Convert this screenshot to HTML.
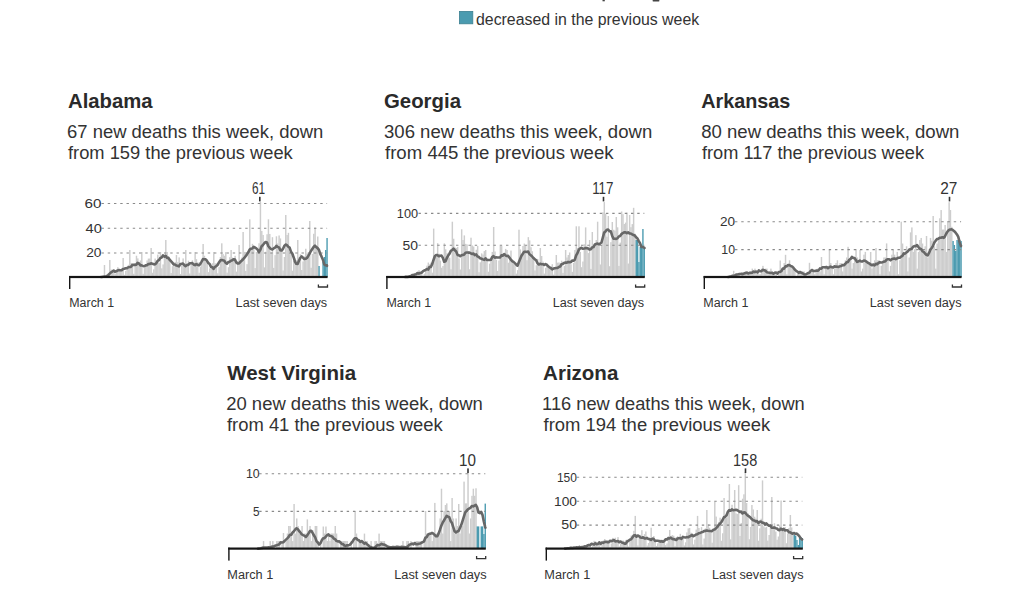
<!DOCTYPE html>
<html><head><meta charset="utf-8"><title>Deaths this week</title>
<style>
html,body{margin:0;padding:0;background:#fff;width:1024px;height:614px;overflow:hidden}
svg{display:block}
text{font-family:"Liberation Sans",sans-serif;fill:#333333}
.tt{font-weight:700;font-size:21px;fill:#2a2a2a}
.st{font-size:18.3px}
.gl{font-size:12.5px}
.ml{font-size:15.6px}
.xl{font-size:12.5px}
.lg{font-size:15.8px}
.xl2{font-size:12.8px}
</style></head><body>
<svg width="1024" height="614" viewBox="0 0 1024 614">
<rect width="1024" height="614" fill="#fff"/>
<rect x="602.5" y="0" width="2.3" height="1.3" fill="#444"/><rect x="652.5" y="0" width="7" height="1.6" rx="0.8" fill="#444"/>
<rect x="459.4" y="11.4" width="13.4" height="12.4" fill="#4b9bb0" stroke="#3d8091" stroke-width="0.8"/>
<text id="leg" x="476.00" y="24.60" class="lg" textLength="223.17" lengthAdjust="spacingAndGlyphs">decreased in the previous week</text>
<text id="t0" x="68.00" y="108.40" class="tt" textLength="84.55" lengthAdjust="spacingAndGlyphs">Alabama</text>
<text id="a0" x="67.00" y="137.50" class="st" textLength="256.28" lengthAdjust="spacingAndGlyphs">67 new deaths this week, down</text>
<text id="b0" x="68.00" y="158.70" class="st" textLength="224.78" lengthAdjust="spacingAndGlyphs">from 159 the previous week</text>
<g fill="#cdcdcd"><rect x="103.76" y="265" width="1.45" height="12"/><rect x="106.42" y="276.22" width="1.45" height="0.78"/><rect x="107.76" y="274.47" width="1.45" height="2.53"/><rect x="109.09" y="260" width="1.45" height="17"/><rect x="110.42" y="269.59" width="1.45" height="7.41"/><rect x="111.76" y="271.4" width="1.45" height="5.6"/><rect x="113.09" y="270.39" width="1.45" height="6.61"/><rect x="114.42" y="273.76" width="1.45" height="3.24"/><rect x="115.75" y="272.44" width="1.45" height="4.56"/><rect x="117.09" y="267.19" width="1.45" height="9.81"/><rect x="118.42" y="269.92" width="1.45" height="7.08"/><rect x="119.75" y="270.27" width="1.45" height="6.73"/><rect x="121.09" y="270.41" width="1.45" height="6.59"/><rect x="122.42" y="258" width="1.45" height="19"/><rect x="123.75" y="274.82" width="1.45" height="2.18"/><rect x="125.09" y="270.93" width="1.45" height="6.07"/><rect x="126.42" y="268.1" width="1.45" height="8.9"/><rect x="127.75" y="264.81" width="1.45" height="12.19"/><rect x="129.08" y="250" width="1.45" height="27"/><rect x="130.42" y="262.93" width="1.45" height="14.07"/><rect x="131.75" y="265.37" width="1.45" height="11.63"/><rect x="133.08" y="273.83" width="1.45" height="3.17"/><rect x="134.42" y="263.15" width="1.45" height="13.85"/><rect x="135.75" y="255.71" width="1.45" height="21.29"/><rect x="137.08" y="258.38" width="1.45" height="18.62"/><rect x="138.42" y="263.15" width="1.45" height="13.85"/><rect x="139.75" y="260.46" width="1.45" height="16.54"/><rect x="141.08" y="252" width="1.45" height="25"/><rect x="142.41" y="273.82" width="1.45" height="3.18"/><rect x="143.75" y="268.12" width="1.45" height="8.88"/><rect x="145.08" y="266.1" width="1.45" height="10.9"/><rect x="146.41" y="260.43" width="1.45" height="16.57"/><rect x="147.75" y="258.58" width="1.45" height="18.42"/><rect x="149.08" y="258.54" width="1.45" height="18.46"/><rect x="150.41" y="248" width="1.45" height="29"/><rect x="151.75" y="272.74" width="1.45" height="4.26"/><rect x="153.08" y="269.34" width="1.45" height="7.66"/><rect x="154.41" y="258.56" width="1.45" height="18.44"/><rect x="155.74" y="260.94" width="1.45" height="16.06"/><rect x="157.08" y="254.61" width="1.45" height="22.39"/><rect x="158.41" y="263.07" width="1.45" height="13.93"/><rect x="159.74" y="252" width="1.45" height="25"/><rect x="161.08" y="268.36" width="1.45" height="8.64"/><rect x="162.41" y="264.41" width="1.45" height="12.59"/><rect x="163.74" y="254.64" width="1.45" height="22.36"/><rect x="165.08" y="240" width="1.45" height="37"/><rect x="166.41" y="251.99" width="1.45" height="25.01"/><rect x="167.74" y="256.34" width="1.45" height="20.66"/><rect x="169.07" y="259.48" width="1.45" height="17.52"/><rect x="170.41" y="273.01" width="1.45" height="3.99"/><rect x="171.74" y="266.16" width="1.45" height="10.84"/><rect x="173.07" y="264.5" width="1.45" height="12.5"/><rect x="174.41" y="261.98" width="1.45" height="15.02"/><rect x="175.74" y="255" width="1.45" height="22"/><rect x="177.07" y="262.18" width="1.45" height="14.82"/><rect x="178.41" y="257.39" width="1.45" height="19.61"/><rect x="179.74" y="274.09" width="1.45" height="2.91"/><rect x="181.07" y="264.84" width="1.45" height="12.16"/><rect x="182.4" y="258.42" width="1.45" height="18.58"/><rect x="183.74" y="265.4" width="1.45" height="11.6"/><rect x="185.07" y="250" width="1.45" height="27"/><rect x="186.4" y="265.63" width="1.45" height="11.37"/><rect x="187.74" y="260.67" width="1.45" height="16.33"/><rect x="189.07" y="273.49" width="1.45" height="3.51"/><rect x="190.4" y="263.53" width="1.45" height="13.47"/><rect x="191.74" y="260.3" width="1.45" height="16.7"/><rect x="193.07" y="263.86" width="1.45" height="13.14"/><rect x="194.4" y="252" width="1.45" height="25"/><rect x="195.73" y="259.19" width="1.45" height="17.81"/><rect x="197.07" y="262.19" width="1.45" height="14.81"/><rect x="198.4" y="272.72" width="1.45" height="4.28"/><rect x="199.73" y="266.64" width="1.45" height="10.36"/><rect x="201.07" y="262.86" width="1.45" height="14.14"/><rect x="202.4" y="244" width="1.45" height="33"/><rect x="203.73" y="255.72" width="1.45" height="21.28"/><rect x="205.06" y="261.34" width="1.45" height="15.66"/><rect x="206.4" y="259.23" width="1.45" height="17.77"/><rect x="207.73" y="272.13" width="1.45" height="4.87"/><rect x="209.06" y="268.33" width="1.45" height="8.67"/><rect x="210.4" y="266.36" width="1.45" height="10.64"/><rect x="211.73" y="263.23" width="1.45" height="13.77"/><rect x="213.06" y="252" width="1.45" height="25"/><rect x="214.4" y="263.31" width="1.45" height="13.69"/><rect x="215.73" y="263.38" width="1.45" height="13.62"/><rect x="217.06" y="273.28" width="1.45" height="3.72"/><rect x="218.39" y="267.05" width="1.45" height="9.95"/><rect x="219.73" y="257.04" width="1.45" height="19.96"/><rect x="221.06" y="243.3" width="1.45" height="33.7"/><rect x="222.39" y="254.14" width="1.45" height="22.86"/><rect x="223.73" y="255.74" width="1.45" height="21.26"/><rect x="225.06" y="252.12" width="1.45" height="24.88"/><rect x="226.39" y="272.61" width="1.45" height="4.39"/><rect x="227.73" y="267.21" width="1.45" height="9.79"/><rect x="229.06" y="257.21" width="1.45" height="19.79"/><rect x="230.39" y="250" width="1.45" height="27"/><rect x="231.72" y="257.56" width="1.45" height="19.44"/><rect x="233.06" y="258.09" width="1.45" height="18.91"/><rect x="234.39" y="255.79" width="1.45" height="21.21"/><rect x="235.72" y="271.62" width="1.45" height="5.38"/><rect x="237.06" y="260.98" width="1.45" height="16.02"/><rect x="238.39" y="245" width="1.45" height="32"/><rect x="239.72" y="261.06" width="1.45" height="15.94"/><rect x="241.06" y="257.55" width="1.45" height="19.45"/><rect x="242.39" y="232" width="1.45" height="45"/><rect x="243.72" y="251.9" width="1.45" height="25.1"/><rect x="245.05" y="270.88" width="1.45" height="6.12"/><rect x="246.39" y="264.16" width="1.45" height="12.84"/><rect x="247.72" y="252.81" width="1.45" height="24.19"/><rect x="249.05" y="219.3" width="1.45" height="57.7"/><rect x="250.39" y="248.7" width="1.45" height="28.3"/><rect x="251.72" y="243.84" width="1.45" height="33.16"/><rect x="253.05" y="245.68" width="1.45" height="31.32"/><rect x="254.39" y="268.07" width="1.45" height="8.93"/><rect x="255.72" y="251.91" width="1.45" height="25.09"/><rect x="257.05" y="251.46" width="1.45" height="25.54"/><rect x="258.38" y="243.25" width="1.45" height="33.75"/><rect x="259.72" y="201.8" width="1.45" height="75.2"/><rect x="261.05" y="230.95" width="1.45" height="46.05"/><rect x="262.38" y="234.96" width="1.45" height="42.04"/><rect x="263.72" y="267.36" width="1.45" height="9.64"/><rect x="265.05" y="251.74" width="1.45" height="25.26"/><rect x="266.38" y="234.25" width="1.45" height="42.75"/><rect x="267.72" y="219.3" width="1.45" height="57.7"/><rect x="269.05" y="233.96" width="1.45" height="43.04"/><rect x="270.38" y="252.54" width="1.45" height="24.46"/><rect x="271.71" y="237.2" width="1.45" height="39.8"/><rect x="273.05" y="267.86" width="1.45" height="9.14"/><rect x="274.38" y="255.15" width="1.45" height="21.85"/><rect x="275.71" y="236.3" width="1.45" height="40.7"/><rect x="277.05" y="243.42" width="1.45" height="33.58"/><rect x="278.38" y="235.47" width="1.45" height="41.53"/><rect x="279.71" y="238.43" width="1.45" height="38.57"/><rect x="281.05" y="250.61" width="1.45" height="26.39"/><rect x="282.38" y="270.48" width="1.45" height="6.52"/><rect x="283.71" y="257.03" width="1.45" height="19.97"/><rect x="285.04" y="215" width="1.45" height="62"/><rect x="286.38" y="235.02" width="1.45" height="41.98"/><rect x="287.71" y="232.81" width="1.45" height="44.19"/><rect x="289.04" y="253.3" width="1.45" height="23.7"/><rect x="290.38" y="253.71" width="1.45" height="23.29"/><rect x="291.71" y="270.71" width="1.45" height="6.29"/><rect x="293.04" y="260.79" width="1.45" height="16.21"/><rect x="294.38" y="258.46" width="1.45" height="18.54"/><rect x="295.71" y="260.23" width="1.45" height="16.77"/><rect x="297.04" y="240" width="1.45" height="37"/><rect x="298.37" y="257.01" width="1.45" height="19.99"/><rect x="299.71" y="254.19" width="1.45" height="22.81"/><rect x="301.04" y="269.99" width="1.45" height="7.01"/><rect x="302.37" y="261.4" width="1.45" height="15.6"/><rect x="303.71" y="256.36" width="1.45" height="20.64"/><rect x="305.04" y="248.74" width="1.45" height="28.26"/><rect x="306.37" y="253.4" width="1.45" height="23.6"/><rect x="307.71" y="255.13" width="1.45" height="21.87"/><rect x="309.04" y="221" width="1.45" height="56"/><rect x="310.37" y="267.74" width="1.45" height="9.26"/><rect x="311.7" y="253.93" width="1.45" height="23.07"/><rect x="313.04" y="233.79" width="1.45" height="43.21"/><rect x="314.37" y="227.56" width="1.45" height="49.44"/><rect x="315.7" y="248.46" width="1.45" height="28.54"/><rect x="317.04" y="236.5" width="1.45" height="40.5"/></g>
<g fill="#4b9bb0"><rect x="318.37" y="266" width="1.38" height="11"/><rect x="319.7" y="277" width="1.38" height="0"/><rect x="321.04" y="277" width="1.38" height="0"/><rect x="322.37" y="262" width="1.38" height="15"/><rect x="323.7" y="257" width="1.38" height="20"/><rect x="325.03" y="250" width="1.38" height="27"/><rect x="326.37" y="238" width="1.38" height="39"/></g>
<line x1="101.5" y1="252.95" x2="327.1" y2="252.95" stroke="#8a8a8a" stroke-width="1.1" stroke-dasharray="2.4 3.85"/>
<text id="g0_20" x="86.20" y="257.25" class="gl" textLength="15.31" lengthAdjust="spacingAndGlyphs">20</text>
<line x1="101.5" y1="228.2" x2="327.1" y2="228.2" stroke="#8a8a8a" stroke-width="1.1" stroke-dasharray="2.4 3.85"/>
<text id="g0_40" x="85.60" y="232.50" class="gl" textLength="16.31" lengthAdjust="spacingAndGlyphs">40</text>
<line x1="101.5" y1="203.45" x2="327.1" y2="203.45" stroke="#8a8a8a" stroke-width="1.1" stroke-dasharray="2.4 3.85"/>
<text id="g0_60" x="84.60" y="207.75" class="gl" textLength="16.91" lengthAdjust="spacingAndGlyphs">60</text>
<path d="M101 277 L101.66 276.97 L102.99 276.71 L104.32 276.58 L105.66 276.58 L106.99 275.84 L108.32 274.99 L109.66 273.64 L110.99 272.31 L112.32 271.58 L113.66 270.51 L114.99 271.71 L116.32 271.3 L117.65 270.45 L118.99 270.08 L120.32 270.26 L121.65 270.3 L122.99 269.04 L124.32 268.8 L125.65 268.25 L126.99 268.09 L128.32 267.21 L129.65 267.04 L130.98 266.84 L132.32 264.9 L133.65 264.7 L134.98 264.85 L136.32 264.64 L137.65 262.86 L138.98 263.45 L140.31 265.36 L141.65 265.36 L142.98 265.88 L144.31 266.26 L145.65 265.4 L146.98 265.18 L148.31 264.11 L149.65 264.01 L150.98 263.29 L152.31 263.65 L153.64 264.26 L154.98 264.34 L156.31 263.24 L157.64 260.83 L158.98 260.12 L160.31 257.9 L161.64 257.48 L162.98 255.4 L164.31 256.59 L165.64 255.75 L166.97 257.83 L168.31 257.82 L169.64 259.75 L170.97 261.2 L172.31 262.67 L173.64 264.39 L174.97 264.45 L176.31 265.54 L177.64 265.72 L178.97 266.36 L180.3 264.05 L181.64 263.84 L182.97 263.52 L184.3 265.18 L185.64 266.21 L186.97 264.81 L188.3 264.88 L189.64 263.26 L190.97 263.2 L192.3 263.07 L193.63 264.46 L194.97 265.11 L196.3 264.07 L197.63 264.74 L198.97 265.29 L200.3 263.78 L201.63 261.6 L202.97 259.11 L204.3 259.25 L205.63 259.41 L206.96 260.83 L208.3 262.98 L209.63 264.04 L210.96 266.89 L212.3 267.34 L213.63 268.85 L214.96 266.81 L216.3 266.09 L217.63 264.93 L218.96 262.49 L220.29 260.55 L221.63 259.99 L222.96 260.36 L224.29 260.82 L225.63 262.69 L226.96 263.74 L228.29 262.13 L229.63 261.77 L230.96 260.76 L232.29 260.37 L233.62 259.27 L234.96 259.6 L236.29 262.44 L237.62 263.55 L238.96 263.42 L240.29 262.01 L241.62 260.69 L242.96 259.43 L244.29 257.95 L245.62 256.19 L246.95 254.38 L248.29 252.31 L249.62 249.59 L250.95 248.67 L252.29 248.51 L253.62 246.83 L254.95 247.51 L256.29 248.4 L257.62 249.68 L258.95 252.19 L260.28 249.95 L261.62 246.25 L262.95 245.01 L264.28 243.32 L265.62 242.07 L266.95 242.42 L268.28 246.04 L269.61 247.75 L270.95 248.91 L272.28 249.43 L273.61 248.42 L274.95 247.67 L276.28 245.94 L277.61 246.87 L278.95 247.35 L280.28 250.15 L281.61 250.56 L282.94 248.94 L284.28 245.94 L285.61 244.58 L286.94 245.11 L288.28 246.75 L289.61 247.57 L290.94 251.66 L292.28 253.55 L293.61 257.21 L294.94 261.54 L296.27 263.8 L297.61 264.01 L298.94 260.81 L300.27 257.98 L301.61 256.43 L302.94 257.61 L304.27 259 L305.61 258.79 L306.94 257.98 L308.27 255.94 L309.6 253.64 L310.94 251.03 L312.27 248.97 L313.6 247.03 L314.94 245.66 L316.27 247.15 L317.6 248.16 L318.94 249.86 L320.27 253.91 L321.6 256.66 L322.93 259.73 L324.27 264.49 L325.6 265.28 L326.93 265.36 L327 266" fill="none" stroke="#676767" stroke-width="2.6" stroke-linejoin="round" stroke-linecap="round"/>
<rect x="69" y="275.9" width="258.6" height="2.2" fill="#151515"/>
<rect x="69" y="276" width="1.4" height="13" fill="#151515"/>
<path d="M318.4 284.5V287H327.5V284.5" fill="none" stroke="#333" stroke-width="1.3"/>
<rect x="259" y="196.8" width="1.6" height="4.6" fill="#333"/>
<text id="m0" x="252.00" y="194.10" class="ml" textLength="13.16" lengthAdjust="spacingAndGlyphs">61</text>
<text id="x0" x="69.30" y="307.00" class="xl" textLength="44.76" lengthAdjust="spacingAndGlyphs">March 1</text>
<text id="l0" x="235.60" y="307.00" class="xl" textLength="91.54" lengthAdjust="spacingAndGlyphs">Last seven days</text>
<text id="t1" x="384.00" y="108.40" class="tt" textLength="76.96" lengthAdjust="spacingAndGlyphs">Georgia</text>
<text id="a1" x="384.00" y="137.50" class="st" textLength="268.23" lengthAdjust="spacingAndGlyphs">306 new deaths this week, down</text>
<text id="b1" x="385.00" y="158.70" class="st" textLength="228.58" lengthAdjust="spacingAndGlyphs">from 445 the previous week</text>
<g fill="#cdcdcd"><rect x="406.29" y="276.65" width="1.45" height="0.35"/><rect x="407.63" y="276.49" width="1.45" height="0.51"/><rect x="408.96" y="276.4" width="1.45" height="0.6"/><rect x="410.29" y="275.85" width="1.45" height="1.15"/><rect x="411.63" y="274.41" width="1.45" height="2.59"/><rect x="412.96" y="276.27" width="1.45" height="0.73"/><rect x="414.29" y="274.88" width="1.45" height="2.12"/><rect x="415.63" y="272.77" width="1.45" height="4.23"/><rect x="416.96" y="272.47" width="1.45" height="4.53"/><rect x="418.29" y="270.19" width="1.45" height="6.81"/><rect x="419.62" y="271.46" width="1.45" height="5.54"/><rect x="420.96" y="272.67" width="1.45" height="4.33"/><rect x="422.29" y="275.54" width="1.45" height="1.46"/><rect x="423.62" y="273.72" width="1.45" height="3.28"/><rect x="424.96" y="269.65" width="1.45" height="7.35"/><rect x="426.29" y="265.66" width="1.45" height="11.34"/><rect x="427.62" y="262.56" width="1.45" height="14.44"/><rect x="428.96" y="264.35" width="1.45" height="12.65"/><rect x="430.29" y="262.59" width="1.45" height="14.41"/><rect x="431.62" y="272.66" width="1.45" height="4.34"/><rect x="432.95" y="228.6" width="1.45" height="48.4"/><rect x="434.29" y="257.29" width="1.45" height="19.71"/><rect x="435.62" y="256.99" width="1.45" height="20.01"/><rect x="436.95" y="243.18" width="1.45" height="33.82"/><rect x="438.29" y="253.65" width="1.45" height="23.35"/><rect x="439.62" y="260.6" width="1.45" height="16.4"/><rect x="440.95" y="267.76" width="1.45" height="9.24"/><rect x="442.29" y="266.01" width="1.45" height="10.99"/><rect x="443.62" y="243.4" width="1.45" height="33.6"/><rect x="444.95" y="249.32" width="1.45" height="27.68"/><rect x="446.28" y="253.25" width="1.45" height="23.75"/><rect x="447.62" y="252.88" width="1.45" height="24.12"/><rect x="448.95" y="257.67" width="1.45" height="19.33"/><rect x="450.28" y="269.28" width="1.45" height="7.72"/><rect x="451.62" y="221.7" width="1.45" height="55.3"/><rect x="452.95" y="238.74" width="1.45" height="38.26"/><rect x="454.28" y="247.57" width="1.45" height="29.43"/><rect x="455.62" y="247.93" width="1.45" height="29.07"/><rect x="456.95" y="246.89" width="1.45" height="30.11"/><rect x="458.28" y="258.47" width="1.45" height="18.53"/><rect x="459.61" y="269.5" width="1.45" height="7.5"/><rect x="460.95" y="229.3" width="1.45" height="47.7"/><rect x="462.28" y="240.01" width="1.45" height="36.99"/><rect x="463.61" y="235.4" width="1.45" height="41.6"/><rect x="464.95" y="243.85" width="1.45" height="33.15"/><rect x="466.28" y="244.36" width="1.45" height="32.64"/><rect x="467.61" y="251.22" width="1.45" height="25.78"/><rect x="468.95" y="269.27" width="1.45" height="7.73"/><rect x="470.28" y="237.7" width="1.45" height="39.3"/><rect x="471.61" y="245.44" width="1.45" height="31.56"/><rect x="472.94" y="246.52" width="1.45" height="30.48"/><rect x="474.28" y="256.82" width="1.45" height="20.18"/><rect x="475.61" y="249.71" width="1.45" height="27.29"/><rect x="476.94" y="246" width="1.45" height="31"/><rect x="478.28" y="272.27" width="1.45" height="4.73"/><rect x="479.61" y="262.29" width="1.45" height="14.71"/><rect x="480.94" y="253.39" width="1.45" height="23.61"/><rect x="482.28" y="254.55" width="1.45" height="22.45"/><rect x="483.61" y="251.12" width="1.45" height="25.88"/><rect x="484.94" y="250" width="1.45" height="27"/><rect x="486.27" y="258.77" width="1.45" height="18.23"/><rect x="487.61" y="271.74" width="1.45" height="5.26"/><rect x="488.94" y="263.65" width="1.45" height="13.35"/><rect x="490.27" y="260.46" width="1.45" height="16.54"/><rect x="491.61" y="251.93" width="1.45" height="25.07"/><rect x="492.94" y="227" width="1.45" height="50"/><rect x="494.27" y="251.5" width="1.45" height="25.5"/><rect x="495.61" y="259.8" width="1.45" height="17.2"/><rect x="496.94" y="270.97" width="1.45" height="6.03"/><rect x="498.27" y="260.53" width="1.45" height="16.47"/><rect x="499.6" y="246" width="1.45" height="31"/><rect x="500.94" y="246.05" width="1.45" height="30.95"/><rect x="502.27" y="253.62" width="1.45" height="23.38"/><rect x="503.6" y="254.02" width="1.45" height="22.98"/><rect x="504.94" y="248.9" width="1.45" height="28.1"/><rect x="506.27" y="250" width="1.45" height="27"/><rect x="507.6" y="262.71" width="1.45" height="14.29"/><rect x="508.94" y="257.44" width="1.45" height="19.56"/><rect x="510.27" y="250.55" width="1.45" height="26.45"/><rect x="511.6" y="259.4" width="1.45" height="17.6"/><rect x="512.93" y="264.05" width="1.45" height="12.95"/><rect x="514.27" y="264.24" width="1.45" height="12.76"/><rect x="515.6" y="273.62" width="1.45" height="3.38"/><rect x="516.93" y="270.15" width="1.45" height="6.85"/><rect x="518.27" y="229.7" width="1.45" height="47.3"/><rect x="519.6" y="249.37" width="1.45" height="27.63"/><rect x="520.93" y="258.17" width="1.45" height="18.83"/><rect x="522.26" y="245.96" width="1.45" height="31.04"/><rect x="523.6" y="243.59" width="1.45" height="33.41"/><rect x="524.93" y="246" width="1.45" height="31"/><rect x="526.26" y="260.22" width="1.45" height="16.78"/><rect x="527.6" y="237.13" width="1.45" height="39.87"/><rect x="528.93" y="240.39" width="1.45" height="36.61"/><rect x="530.26" y="247.23" width="1.45" height="29.77"/><rect x="531.6" y="251.25" width="1.45" height="25.75"/><rect x="532.93" y="258.55" width="1.45" height="18.45"/><rect x="534.26" y="270.47" width="1.45" height="6.53"/><rect x="535.59" y="265.2" width="1.45" height="11.8"/><rect x="536.93" y="258.92" width="1.45" height="18.08"/><rect x="538.26" y="262.52" width="1.45" height="14.48"/><rect x="539.59" y="248" width="1.45" height="29"/><rect x="540.93" y="256" width="1.45" height="21"/><rect x="542.26" y="261.65" width="1.45" height="15.35"/><rect x="543.59" y="273.58" width="1.45" height="3.42"/><rect x="544.93" y="267.89" width="1.45" height="9.11"/><rect x="546.26" y="263.04" width="1.45" height="13.96"/><rect x="547.59" y="267.01" width="1.45" height="9.99"/><rect x="548.92" y="268.19" width="1.45" height="8.81"/><rect x="550.26" y="266.78" width="1.45" height="10.22"/><rect x="551.59" y="264.19" width="1.45" height="12.81"/><rect x="552.92" y="274.63" width="1.45" height="2.37"/><rect x="554.26" y="268.76" width="1.45" height="8.24"/><rect x="555.59" y="255" width="1.45" height="22"/><rect x="556.92" y="262.66" width="1.45" height="14.34"/><rect x="558.26" y="262.5" width="1.45" height="14.5"/><rect x="559.59" y="263.45" width="1.45" height="13.55"/><rect x="560.92" y="260.69" width="1.45" height="16.31"/><rect x="562.25" y="272.91" width="1.45" height="4.09"/><rect x="563.59" y="266.01" width="1.45" height="10.99"/><rect x="564.92" y="250" width="1.45" height="27"/><rect x="566.25" y="257.46" width="1.45" height="19.54"/><rect x="567.59" y="255.03" width="1.45" height="21.97"/><rect x="568.92" y="252.46" width="1.45" height="24.54"/><rect x="570.25" y="264.25" width="1.45" height="12.75"/><rect x="571.59" y="271.86" width="1.45" height="5.14"/><rect x="572.92" y="262.97" width="1.45" height="14.03"/><rect x="574.25" y="249.97" width="1.45" height="27.03"/><rect x="575.58" y="226.3" width="1.45" height="50.7"/><rect x="576.92" y="247.9" width="1.45" height="29.1"/><rect x="578.25" y="226.3" width="1.45" height="50.7"/><rect x="579.58" y="251.89" width="1.45" height="25.11"/><rect x="580.92" y="267.19" width="1.45" height="9.81"/><rect x="582.25" y="261.51" width="1.45" height="15.49"/><rect x="583.58" y="244.25" width="1.45" height="32.75"/><rect x="584.92" y="227.4" width="1.45" height="49.6"/><rect x="586.25" y="248.4" width="1.45" height="28.6"/><rect x="587.58" y="253.07" width="1.45" height="23.93"/><rect x="588.91" y="240.02" width="1.45" height="36.98"/><rect x="590.25" y="268.89" width="1.45" height="8.11"/><rect x="591.58" y="232" width="1.45" height="45"/><rect x="592.91" y="246.82" width="1.45" height="30.18"/><rect x="594.25" y="244.01" width="1.45" height="32.99"/><rect x="595.58" y="239.99" width="1.45" height="37.01"/><rect x="596.91" y="221.7" width="1.45" height="55.3"/><rect x="598.25" y="244.34" width="1.45" height="32.66"/><rect x="599.58" y="264.48" width="1.45" height="12.52"/><rect x="600.91" y="245.02" width="1.45" height="31.98"/><rect x="602.24" y="212.34" width="1.45" height="64.66"/><rect x="603.58" y="202.1" width="1.45" height="74.9"/><rect x="604.91" y="213.63" width="1.45" height="63.37"/><rect x="606.24" y="236.74" width="1.45" height="40.26"/><rect x="607.58" y="216" width="1.45" height="61"/><rect x="608.91" y="266.22" width="1.45" height="10.78"/><rect x="610.24" y="242.16" width="1.45" height="34.84"/><rect x="611.58" y="222" width="1.45" height="55"/><rect x="612.91" y="229.77" width="1.45" height="47.23"/><rect x="614.24" y="230.57" width="1.45" height="46.43"/><rect x="615.57" y="217" width="1.45" height="60"/><rect x="616.91" y="227.31" width="1.45" height="49.69"/><rect x="618.24" y="265.91" width="1.45" height="11.09"/><rect x="619.57" y="242.63" width="1.45" height="34.37"/><rect x="620.91" y="211.5" width="1.45" height="65.5"/><rect x="622.24" y="214.18" width="1.45" height="62.82"/><rect x="623.57" y="224.01" width="1.45" height="52.99"/><rect x="624.91" y="222.6" width="1.45" height="54.4"/><rect x="626.24" y="212.6" width="1.45" height="64.4"/><rect x="627.57" y="263.55" width="1.45" height="13.45"/><rect x="628.9" y="215" width="1.45" height="62"/><rect x="630.24" y="227.19" width="1.45" height="49.81"/><rect x="631.57" y="224.11" width="1.45" height="52.89"/><rect x="632.9" y="207.81" width="1.45" height="69.19"/><rect x="634.24" y="233.68" width="1.45" height="43.32"/></g>
<g fill="#4b9bb0"><rect x="635.57" y="240" width="1.38" height="37"/><rect x="636.9" y="240" width="1.38" height="37"/><rect x="638.24" y="262" width="1.38" height="15"/><rect x="639.57" y="247" width="1.38" height="30"/><rect x="640.9" y="247" width="1.38" height="30"/><rect x="642.23" y="229" width="1.38" height="48"/><rect x="643.57" y="247" width="1.38" height="30"/></g>
<line x1="418.5" y1="245.3" x2="644.3" y2="245.3" stroke="#8a8a8a" stroke-width="1.1" stroke-dasharray="2.4 3.85"/>
<text id="g1_50" x="402.60" y="249.60" class="gl" textLength="15.51" lengthAdjust="spacingAndGlyphs">50</text>
<line x1="418.5" y1="213.4" x2="644.3" y2="213.4" stroke="#8a8a8a" stroke-width="1.1" stroke-dasharray="2.4 3.85"/>
<text id="g1_100" x="396.80" y="217.70" class="gl" textLength="21.26" lengthAdjust="spacingAndGlyphs">100</text>
<path d="M405 277 L405.53 276.86 L406.86 276.91 L408.19 276.86 L409.53 276.26 L410.86 275.99 L412.19 275.15 L413.53 275.06 L414.86 274.51 L416.19 274.15 L417.53 272.95 L418.86 273.57 L420.19 272.96 L421.52 272.71 L422.86 271.36 L424.19 270.49 L425.52 270.07 L426.86 269.02 L428.19 269.58 L429.52 266.94 L430.86 267.08 L432.19 264.06 L433.52 259.94 L434.85 256.23 L436.19 255.08 L437.52 255.17 L438.85 256.22 L440.19 255.73 L441.52 255.64 L442.85 257.84 L444.19 261.72 L445.52 261.28 L446.85 257.94 L448.18 255.54 L449.52 253.68 L450.85 250.91 L452.18 249.99 L453.52 248.7 L454.85 250.19 L456.18 251.45 L457.51 254.89 L458.85 255.27 L460.18 256.29 L461.51 255.32 L462.85 254.89 L464.18 254.61 L465.51 252.76 L466.85 252.46 L468.18 252.58 L469.51 252.66 L470.84 253.37 L472.18 254.06 L473.51 253.49 L474.84 255.18 L476.18 254.38 L477.51 256.43 L478.84 257.02 L480.18 258.32 L481.51 258.75 L482.84 259.38 L484.17 259.83 L485.51 258.33 L486.84 259.91 L488.17 260.05 L489.51 260.06 L490.84 259.84 L492.17 257.07 L493.51 256.18 L494.84 257.73 L496.17 257.34 L497.5 257.49 L498.84 257.51 L500.17 257.43 L501.5 255.27 L502.84 255.62 L504.17 254.01 L505.5 255.31 L506.84 256.03 L508.17 255.9 L509.5 257.74 L510.83 259.61 L512.17 261.04 L513.5 261.83 L514.83 263.12 L516.17 264.45 L517.5 265.67 L518.83 262.34 L520.17 258.9 L521.5 255.74 L522.83 253.69 L524.16 251.74 L525.5 251.77 L526.83 252 L528.16 251.51 L529.5 254.27 L530.83 255.27 L532.16 256.48 L533.5 258.04 L534.83 259.33 L536.16 260.34 L537.49 263.33 L538.83 264.5 L540.16 263.8 L541.49 264.22 L542.83 264.19 L544.16 264.95 L545.49 264.03 L546.83 264.95 L548.16 266.29 L549.49 267.33 L550.82 268 L552.16 269.35 L553.49 268.59 L554.82 268.28 L556.16 267.96 L557.49 268.03 L558.82 266.97 L560.16 266.56 L561.49 264.25 L562.82 263.9 L564.15 262.89 L565.49 262.51 L566.82 262.68 L568.15 261.92 L569.49 262.17 L570.82 262.19 L572.15 260.62 L573.49 260.73 L574.82 259.73 L576.15 255.48 L577.48 253.14 L578.82 249.73 L580.15 248.34 L581.48 247.83 L582.82 248.79 L584.15 248.51 L585.48 248.16 L586.81 247.99 L588.15 248.44 L589.48 249.56 L590.81 249.19 L592.15 247.39 L593.48 247.03 L594.81 244.5 L596.15 244.02 L597.48 243.56 L598.81 244.27 L600.14 243.51 L601.48 242.48 L602.81 237.6 L604.14 232.61 L605.48 231.56 L606.81 229.69 L608.14 229.53 L609.48 231.29 L610.81 231.32 L612.14 235.67 L613.47 238.59 L614.81 238.73 L616.14 238.9 L617.47 238.33 L618.81 236.5 L620.14 236.06 L621.47 234.1 L622.81 233.07 L624.14 232.34 L625.47 232.19 L626.8 233.17 L628.14 232.37 L629.47 233.44 L630.8 233.47 L632.14 234.43 L633.47 235.01 L634.8 235.56 L636.14 237.36 L637.47 238.47 L638.8 241.1 L640.13 243.36 L641.47 247.04 L642.8 246.93 L644.13 247.56 L644.5 248" fill="none" stroke="#676767" stroke-width="2.6" stroke-linejoin="round" stroke-linecap="round"/>
<rect x="386.2" y="275.9" width="258.6" height="2.2" fill="#151515"/>
<rect x="386.2" y="276" width="1.4" height="13" fill="#151515"/>
<path d="M635.6 284.5V287H644.7V284.5" fill="none" stroke="#333" stroke-width="1.3"/>
<rect x="602.7" y="196.8" width="1.6" height="4.6" fill="#333"/>
<text id="m1" x="592.20" y="194.10" class="ml" textLength="21.28" lengthAdjust="spacingAndGlyphs">117</text>
<text id="x1" x="386.50" y="307.00" class="xl" textLength="44.76" lengthAdjust="spacingAndGlyphs">March 1</text>
<text id="l1" x="552.80" y="307.00" class="xl" textLength="91.34" lengthAdjust="spacingAndGlyphs">Last seven days</text>
<text id="t2" x="701.20" y="108.40" class="tt" textLength="89.16" lengthAdjust="spacingAndGlyphs">Arkansas</text>
<text id="a2" x="701.20" y="137.50" class="st" textLength="258.28" lengthAdjust="spacingAndGlyphs">80 new deaths this week, down</text>
<text id="b2" x="702.00" y="158.70" class="st" textLength="222.02" lengthAdjust="spacingAndGlyphs">from 117 the previous week</text>
<g fill="#cdcdcd"><rect x="732.96" y="270.8" width="1.45" height="6.2"/><rect x="734.29" y="274.21" width="1.45" height="2.79"/><rect x="735.62" y="274.21" width="1.45" height="2.79"/><rect x="736.95" y="274.21" width="1.45" height="2.79"/><rect x="738.28" y="274.21" width="1.45" height="2.79"/><rect x="740.94" y="274.21" width="1.45" height="2.79"/><rect x="742.27" y="274.21" width="1.45" height="2.79"/><rect x="743.6" y="274.21" width="1.45" height="2.79"/><rect x="744.93" y="271.42" width="1.45" height="5.58"/><rect x="746.26" y="271.42" width="1.45" height="5.58"/><rect x="747.59" y="274.21" width="1.45" height="2.79"/><rect x="748.92" y="274.21" width="1.45" height="2.79"/><rect x="750.25" y="271.42" width="1.45" height="5.58"/><rect x="751.58" y="268.63" width="1.45" height="8.37"/><rect x="752.91" y="271.42" width="1.45" height="5.58"/><rect x="754.24" y="268.63" width="1.45" height="8.37"/><rect x="755.57" y="274.21" width="1.45" height="2.79"/><rect x="756.9" y="271.42" width="1.45" height="5.58"/><rect x="758.23" y="274.21" width="1.45" height="2.79"/><rect x="759.56" y="274.21" width="1.45" height="2.79"/><rect x="760.89" y="268.63" width="1.45" height="8.37"/><rect x="762.22" y="265.84" width="1.45" height="11.16"/><rect x="763.55" y="271.42" width="1.45" height="5.58"/><rect x="764.88" y="268.63" width="1.45" height="8.37"/><rect x="766.21" y="268.63" width="1.45" height="8.37"/><rect x="767.54" y="274.21" width="1.45" height="2.79"/><rect x="768.86" y="271.42" width="1.45" height="5.58"/><rect x="770.19" y="268.63" width="1.45" height="8.37"/><rect x="771.52" y="271.42" width="1.45" height="5.58"/><rect x="772.85" y="274.21" width="1.45" height="2.79"/><rect x="774.18" y="271.42" width="1.45" height="5.58"/><rect x="775.51" y="274.21" width="1.45" height="2.79"/><rect x="778.17" y="274.21" width="1.45" height="2.79"/><rect x="779.5" y="260.5" width="1.45" height="16.5"/><rect x="780.83" y="268.63" width="1.45" height="8.37"/><rect x="782.16" y="268.63" width="1.45" height="8.37"/><rect x="783.49" y="263.05" width="1.45" height="13.95"/><rect x="784.82" y="254.8" width="1.45" height="22.2"/><rect x="786.15" y="274.21" width="1.45" height="2.79"/><rect x="787.48" y="265.84" width="1.45" height="11.16"/><rect x="788.81" y="260.26" width="1.45" height="16.74"/><rect x="790.14" y="265.84" width="1.45" height="11.16"/><rect x="791.47" y="265.84" width="1.45" height="11.16"/><rect x="792.8" y="268.63" width="1.45" height="8.37"/><rect x="794.13" y="271.42" width="1.45" height="5.58"/><rect x="796.79" y="274.21" width="1.45" height="2.79"/><rect x="798.12" y="271.42" width="1.45" height="5.58"/><rect x="799.45" y="274.21" width="1.45" height="2.79"/><rect x="800.78" y="271.42" width="1.45" height="5.58"/><rect x="802.11" y="271.42" width="1.45" height="5.58"/><rect x="803.44" y="271.42" width="1.45" height="5.58"/><rect x="806.1" y="274.21" width="1.45" height="2.79"/><rect x="807.43" y="271.42" width="1.45" height="5.58"/><rect x="808.76" y="262.8" width="1.45" height="14.2"/><rect x="810.09" y="271.42" width="1.45" height="5.58"/><rect x="811.42" y="268.63" width="1.45" height="8.37"/><rect x="812.75" y="271.42" width="1.45" height="5.58"/><rect x="814.08" y="274.21" width="1.45" height="2.79"/><rect x="815.41" y="271.42" width="1.45" height="5.58"/><rect x="816.74" y="268.63" width="1.45" height="8.37"/><rect x="818.07" y="268.63" width="1.45" height="8.37"/><rect x="819.4" y="271.42" width="1.45" height="5.58"/><rect x="820.73" y="257" width="1.45" height="20"/><rect x="822.06" y="268.63" width="1.45" height="8.37"/><rect x="823.39" y="274.21" width="1.45" height="2.79"/><rect x="824.72" y="268.63" width="1.45" height="8.37"/><rect x="826.05" y="265.84" width="1.45" height="11.16"/><rect x="827.38" y="268.63" width="1.45" height="8.37"/><rect x="828.71" y="250" width="1.45" height="27"/><rect x="830.04" y="263.05" width="1.45" height="13.95"/><rect x="831.37" y="265.84" width="1.45" height="11.16"/><rect x="832.7" y="274.21" width="1.45" height="2.79"/><rect x="834.03" y="268.63" width="1.45" height="8.37"/><rect x="835.36" y="263.05" width="1.45" height="13.95"/><rect x="836.69" y="260.26" width="1.45" height="16.74"/><rect x="838.02" y="265.84" width="1.45" height="11.16"/><rect x="839.35" y="263.05" width="1.45" height="13.95"/><rect x="840.68" y="263.05" width="1.45" height="13.95"/><rect x="842.01" y="271.42" width="1.45" height="5.58"/><rect x="843.34" y="265.84" width="1.45" height="11.16"/><rect x="844.67" y="260.26" width="1.45" height="16.74"/><rect x="846" y="257.47" width="1.45" height="19.53"/><rect x="847.33" y="246.8" width="1.45" height="30.2"/><rect x="848.66" y="260.26" width="1.45" height="16.74"/><rect x="849.99" y="260.26" width="1.45" height="16.74"/><rect x="851.32" y="268.63" width="1.45" height="8.37"/><rect x="852.65" y="263.05" width="1.45" height="13.95"/><rect x="853.98" y="257.47" width="1.45" height="19.53"/><rect x="855.31" y="249.1" width="1.45" height="27.9"/><rect x="856.64" y="257.47" width="1.45" height="19.53"/><rect x="857.97" y="260.26" width="1.45" height="16.74"/><rect x="859.3" y="250" width="1.45" height="27"/><rect x="860.63" y="271.42" width="1.45" height="5.58"/><rect x="861.96" y="268.63" width="1.45" height="8.37"/><rect x="863.29" y="254.68" width="1.45" height="22.32"/><rect x="864.62" y="251.89" width="1.45" height="25.11"/><rect x="865.95" y="260.26" width="1.45" height="16.74"/><rect x="867.28" y="263.05" width="1.45" height="13.95"/><rect x="868.61" y="263.05" width="1.45" height="13.95"/><rect x="869.94" y="252" width="1.45" height="25"/><rect x="871.27" y="268.63" width="1.45" height="8.37"/><rect x="872.6" y="263.05" width="1.45" height="13.95"/><rect x="873.93" y="260.26" width="1.45" height="16.74"/><rect x="875.26" y="248" width="1.45" height="29"/><rect x="876.59" y="260.26" width="1.45" height="16.74"/><rect x="877.92" y="260.26" width="1.45" height="16.74"/><rect x="879.25" y="274.21" width="1.45" height="2.79"/><rect x="880.58" y="265.84" width="1.45" height="11.16"/><rect x="881.91" y="263.05" width="1.45" height="13.95"/><rect x="883.24" y="257.47" width="1.45" height="19.53"/><rect x="884.57" y="257.47" width="1.45" height="19.53"/><rect x="885.9" y="243.4" width="1.45" height="33.6"/><rect x="887.23" y="260.26" width="1.45" height="16.74"/><rect x="888.56" y="271.42" width="1.45" height="5.58"/><rect x="889.89" y="265.84" width="1.45" height="11.16"/><rect x="891.22" y="254.68" width="1.45" height="22.32"/><rect x="892.55" y="250" width="1.45" height="27"/><rect x="893.88" y="254.68" width="1.45" height="22.32"/><rect x="895.21" y="257.47" width="1.45" height="19.53"/><rect x="896.54" y="251.89" width="1.45" height="25.11"/><rect x="897.86" y="274.21" width="1.45" height="2.79"/><rect x="899.19" y="260.26" width="1.45" height="16.74"/><rect x="900.52" y="221.7" width="1.45" height="55.3"/><rect x="901.85" y="243.52" width="1.45" height="33.48"/><rect x="903.18" y="251.89" width="1.45" height="25.11"/><rect x="904.51" y="254.68" width="1.45" height="22.32"/><rect x="905.84" y="246.31" width="1.45" height="30.69"/><rect x="907.17" y="271.42" width="1.45" height="5.58"/><rect x="908.5" y="257.47" width="1.45" height="19.53"/><rect x="909.83" y="232.36" width="1.45" height="44.64"/><rect x="911.16" y="227.4" width="1.45" height="49.6"/><rect x="912.49" y="251.89" width="1.45" height="25.11"/><rect x="913.82" y="249.1" width="1.45" height="27.9"/><rect x="915.15" y="235.15" width="1.45" height="41.85"/><rect x="916.48" y="268.63" width="1.45" height="8.37"/><rect x="917.81" y="251.89" width="1.45" height="25.11"/><rect x="919.14" y="240" width="1.45" height="37"/><rect x="920.47" y="237.94" width="1.45" height="39.06"/><rect x="921.8" y="243.52" width="1.45" height="33.48"/><rect x="923.13" y="251.89" width="1.45" height="25.11"/><rect x="924.46" y="246.31" width="1.45" height="30.69"/><rect x="925.79" y="236" width="1.45" height="41"/><rect x="927.12" y="257.47" width="1.45" height="19.53"/><rect x="928.45" y="251.89" width="1.45" height="25.11"/><rect x="929.78" y="237.94" width="1.45" height="39.06"/><rect x="931.11" y="240.73" width="1.45" height="36.27"/><rect x="932.44" y="216" width="1.45" height="61"/><rect x="933.77" y="246.31" width="1.45" height="30.69"/><rect x="935.1" y="268.63" width="1.45" height="8.37"/><rect x="936.43" y="243.52" width="1.45" height="33.48"/><rect x="937.76" y="237.94" width="1.45" height="39.06"/><rect x="939.09" y="218.3" width="1.45" height="58.7"/><rect x="940.42" y="210.04" width="1.45" height="66.96"/><rect x="941.75" y="229.57" width="1.45" height="47.43"/><rect x="943.08" y="229.57" width="1.45" height="47.43"/><rect x="944.41" y="225" width="1.45" height="52"/><rect x="945.74" y="251.89" width="1.45" height="25.11"/><rect x="947.07" y="221.2" width="1.45" height="55.8"/><rect x="948.4" y="202.2" width="1.45" height="74.8"/><rect x="949.73" y="210.04" width="1.45" height="66.96"/><rect x="951.06" y="226.78" width="1.45" height="50.22"/></g>
<g fill="#4b9bb0"><rect x="952.39" y="241" width="1.38" height="36"/><rect x="953.72" y="245" width="1.38" height="32"/><rect x="955.05" y="251" width="1.38" height="26"/><rect x="956.38" y="240" width="1.38" height="37"/><rect x="957.71" y="241" width="1.38" height="36"/><rect x="959.04" y="240" width="1.38" height="37"/><rect x="960.37" y="241" width="1.38" height="36"/></g>
<line x1="735" y1="249.6" x2="961.1" y2="249.6" stroke="#8a8a8a" stroke-width="1.1" stroke-dasharray="2.4 3.85"/>
<text id="g2_10" x="721.30" y="253.90" class="gl" textLength="13.71" lengthAdjust="spacingAndGlyphs">10</text>
<line x1="735" y1="221.7" x2="961.1" y2="221.7" stroke="#8a8a8a" stroke-width="1.1" stroke-dasharray="2.4 3.85"/>
<text id="g2_20" x="719.90" y="226.00" class="gl" textLength="15.11" lengthAdjust="spacingAndGlyphs">20</text>
<path d="M728 277 L728.2 276.96 L729.53 276.64 L730.86 276.52 L732.19 275.81 L733.52 275.71 L734.85 275.55 L736.18 274.58 L737.51 274.53 L738.84 274.15 L740.17 274.12 L741.5 273.69 L742.83 274.18 L744.16 273.47 L745.49 272.99 L746.82 272.63 L748.15 273.5 L749.48 272.77 L750.81 272.87 L752.14 272.64 L753.47 271.54 L754.8 272.14 L756.13 271.55 L757.46 272.41 L758.79 270.41 L760.12 271.26 L761.45 271.2 L762.78 269.78 L764.11 270.17 L765.44 270.69 L766.77 272.29 L768.1 272.56 L769.43 272.76 L770.76 273.05 L772.09 272.83 L773.42 273.69 L774.75 272.77 L776.08 272.53 L777.41 273.56 L778.74 271.96 L780.07 271.86 L781.4 271.16 L782.73 268.57 L784.06 268.72 L785.39 266.32 L786.72 266.4 L788.05 265.03 L789.38 265.09 L790.71 265.99 L792.04 266.38 L793.37 267.65 L794.7 269.51 L796.03 270.77 L797.36 271.62 L798.69 272.92 L800.02 271.95 L801.35 272.86 L802.68 273.25 L804.01 274.23 L805.34 274.57 L806.67 273.93 L808 273.16 L809.33 272.84 L810.66 270.86 L811.99 270.13 L813.32 270.97 L814.65 271 L815.98 270.67 L817.31 270.66 L818.64 270.4 L819.97 268.41 L821.3 268.76 L822.63 267.21 L823.96 267.19 L825.29 267.38 L826.62 267.05 L827.95 268.17 L829.28 267.25 L830.61 266.63 L831.94 267.29 L833.26 267.4 L834.59 266.37 L835.92 266.66 L837.25 266.8 L838.58 266.87 L839.91 266.34 L841.24 266.03 L842.57 265.08 L843.9 265.24 L845.23 264.07 L846.56 262.36 L847.89 262.05 L849.22 259.76 L850.55 258.94 L851.88 256.94 L853.21 257.91 L854.54 258.11 L855.87 259.96 L857.2 261.91 L858.53 261.31 L859.86 260.5 L861.19 261.44 L862.52 261.33 L863.85 260.51 L865.18 260.67 L866.51 261.71 L867.84 262.72 L869.17 263.4 L870.5 264.32 L871.83 265.28 L873.16 264.5 L874.49 265.32 L875.82 263.82 L877.15 264.19 L878.48 263.11 L879.81 262.15 L881.14 262.48 L882.47 262.19 L883.8 261.63 L885.13 261.47 L886.46 259.88 L887.79 259.19 L889.12 259.31 L890.45 260.29 L891.78 259.18 L893.11 258.76 L894.44 258.49 L895.77 259.24 L897.1 258.43 L898.43 257.78 L899.76 257.8 L901.09 256.64 L902.42 255.9 L903.75 253.41 L905.08 253.62 L906.41 252.41 L907.74 251.5 L909.07 249.78 L910.4 249.12 L911.73 248.67 L913.06 246.85 L914.39 245.97 L915.72 246.21 L917.05 245.11 L918.38 247 L919.71 248.63 L921.04 248.9 L922.37 251.13 L923.7 251.98 L925.03 253.49 L926.36 254.75 L927.69 255.37 L929.02 252.91 L930.35 249.66 L931.68 248 L933.01 245.9 L934.34 242.5 L935.67 240.68 L937 239.08 L938.33 238.68 L939.66 237.81 L940.99 237.7 L942.32 237.27 L943.65 237.89 L944.98 236.31 L946.31 233.5 L947.64 231.35 L948.97 229.99 L950.3 229.44 L951.63 229.42 L952.96 230.18 L954.29 231.26 L955.62 232.64 L956.95 234.49 L958.28 236.94 L959.61 242.07 L960.94 246.18 L961 245.7" fill="none" stroke="#676767" stroke-width="2.6" stroke-linejoin="round" stroke-linecap="round"/>
<rect x="703.6" y="275.9" width="258" height="2.2" fill="#151515"/>
<rect x="703.6" y="276" width="1.4" height="13" fill="#151515"/>
<path d="M952.4 284.5V287H961.5V284.5" fill="none" stroke="#333" stroke-width="1.3"/>
<rect x="948.7" y="196.8" width="1.6" height="4.6" fill="#333"/>
<text id="m2" x="940.30" y="194.10" class="ml" textLength="17.16" lengthAdjust="spacingAndGlyphs">27</text>
<text id="x2" x="703.30" y="307.00" class="xl" textLength="45.16" lengthAdjust="spacingAndGlyphs">March 1</text>
<text id="l2" x="869.80" y="307.00" class="xl" textLength="91.74" lengthAdjust="spacingAndGlyphs">Last seven days</text>
<text id="t3" x="227.20" y="380.10" class="tt" textLength="128.87" lengthAdjust="spacingAndGlyphs">West Virginia</text>
<text id="a3" x="226.20" y="409.80" class="st" textLength="256.68" lengthAdjust="spacingAndGlyphs">20 new deaths this week, down</text>
<text id="b3" x="227.00" y="431.00" class="st" textLength="215.61" lengthAdjust="spacingAndGlyphs">from 41 the previous week</text>
<g fill="#cdcdcd"><rect x="262.82" y="541.06" width="1.45" height="7.54"/><rect x="269.46" y="541.06" width="1.45" height="7.54"/><rect x="272.12" y="541.06" width="1.45" height="7.54"/><rect x="276.1" y="541.06" width="1.45" height="7.54"/><rect x="277.43" y="541.06" width="1.45" height="7.54"/><rect x="278.76" y="541.06" width="1.45" height="7.54"/><rect x="281.41" y="541.06" width="1.45" height="7.54"/><rect x="282.74" y="533" width="1.45" height="15.6"/><rect x="285.4" y="541.06" width="1.45" height="7.54"/><rect x="286.72" y="533.52" width="1.45" height="15.08"/><rect x="288.05" y="526" width="1.45" height="22.6"/><rect x="289.38" y="525.98" width="1.45" height="22.62"/><rect x="290.71" y="533.52" width="1.45" height="15.08"/><rect x="292.04" y="541.06" width="1.45" height="7.54"/><rect x="293.36" y="504" width="1.45" height="44.6"/><rect x="294.69" y="533.52" width="1.45" height="15.08"/><rect x="296.02" y="518.44" width="1.45" height="30.16"/><rect x="297.35" y="525.98" width="1.45" height="22.62"/><rect x="298.68" y="533.52" width="1.45" height="15.08"/><rect x="300" y="533.52" width="1.45" height="15.08"/><rect x="301.33" y="526" width="1.45" height="22.6"/><rect x="302.66" y="541.06" width="1.45" height="7.54"/><rect x="303.99" y="533.52" width="1.45" height="15.08"/><rect x="305.31" y="533.52" width="1.45" height="15.08"/><rect x="306.64" y="519.4" width="1.45" height="29.2"/><rect x="307.97" y="533.52" width="1.45" height="15.08"/><rect x="309.3" y="525.98" width="1.45" height="22.62"/><rect x="310.63" y="541.06" width="1.45" height="7.54"/><rect x="311.95" y="530" width="1.45" height="18.6"/><rect x="313.28" y="533.52" width="1.45" height="15.08"/><rect x="314.61" y="525.98" width="1.45" height="22.62"/><rect x="315.94" y="526" width="1.45" height="22.6"/><rect x="317.26" y="541.06" width="1.45" height="7.54"/><rect x="319.92" y="541.06" width="1.45" height="7.54"/><rect x="322.58" y="526.5" width="1.45" height="22.1"/><rect x="323.9" y="533.52" width="1.45" height="15.08"/><rect x="325.23" y="526.5" width="1.45" height="22.1"/><rect x="326.56" y="541.06" width="1.45" height="7.54"/><rect x="327.89" y="533.52" width="1.45" height="15.08"/><rect x="329.22" y="541.06" width="1.45" height="7.54"/><rect x="330.54" y="533.52" width="1.45" height="15.08"/><rect x="331.87" y="533.52" width="1.45" height="15.08"/><rect x="333.2" y="533.52" width="1.45" height="15.08"/><rect x="334.53" y="525.98" width="1.45" height="22.62"/><rect x="335.85" y="533.52" width="1.45" height="15.08"/><rect x="337.18" y="541.06" width="1.45" height="7.54"/><rect x="339.84" y="541.06" width="1.45" height="7.54"/><rect x="341.17" y="541.06" width="1.45" height="7.54"/><rect x="342.49" y="541.06" width="1.45" height="7.54"/><rect x="343.82" y="541.06" width="1.45" height="7.54"/><rect x="345.15" y="541.06" width="1.45" height="7.54"/><rect x="346.48" y="541.06" width="1.45" height="7.54"/><rect x="350.46" y="541.06" width="1.45" height="7.54"/><rect x="353.12" y="541.06" width="1.45" height="7.54"/><rect x="354.44" y="511.1" width="1.45" height="37.5"/><rect x="355.77" y="533.52" width="1.45" height="15.08"/><rect x="358.43" y="541.06" width="1.45" height="7.54"/><rect x="359.76" y="541.06" width="1.45" height="7.54"/><rect x="361.08" y="541.06" width="1.45" height="7.54"/><rect x="362.41" y="541.06" width="1.45" height="7.54"/><rect x="363.74" y="533.6" width="1.45" height="15"/><rect x="365.07" y="541.06" width="1.45" height="7.54"/><rect x="366.39" y="541.06" width="1.45" height="7.54"/><rect x="370.38" y="541.06" width="1.45" height="7.54"/><rect x="374.36" y="541.06" width="1.45" height="7.54"/><rect x="375.69" y="541.06" width="1.45" height="7.54"/><rect x="378.35" y="533.6" width="1.45" height="15"/><rect x="379.67" y="541.06" width="1.45" height="7.54"/><rect x="381" y="541.06" width="1.45" height="7.54"/><rect x="382.33" y="541.06" width="1.45" height="7.54"/><rect x="383.66" y="541.06" width="1.45" height="7.54"/><rect x="402.25" y="541.06" width="1.45" height="7.54"/><rect x="406.23" y="541.06" width="1.45" height="7.54"/><rect x="407.56" y="541.06" width="1.45" height="7.54"/><rect x="410.21" y="541.06" width="1.45" height="7.54"/><rect x="415.52" y="541.06" width="1.45" height="7.54"/><rect x="416.85" y="541.06" width="1.45" height="7.54"/><rect x="418.18" y="541.06" width="1.45" height="7.54"/><rect x="419.51" y="541.06" width="1.45" height="7.54"/><rect x="420.84" y="541.06" width="1.45" height="7.54"/><rect x="423.49" y="541.06" width="1.45" height="7.54"/><rect x="424.82" y="511.1" width="1.45" height="37.5"/><rect x="426.15" y="533.52" width="1.45" height="15.08"/><rect x="427.48" y="533.52" width="1.45" height="15.08"/><rect x="428.8" y="533.52" width="1.45" height="15.08"/><rect x="430.13" y="533.52" width="1.45" height="15.08"/><rect x="431.46" y="541.06" width="1.45" height="7.54"/><rect x="432.79" y="533.52" width="1.45" height="15.08"/><rect x="434.11" y="502.9" width="1.45" height="45.7"/><rect x="435.44" y="533.52" width="1.45" height="15.08"/><rect x="436.77" y="533.52" width="1.45" height="15.08"/><rect x="438.1" y="533.52" width="1.45" height="15.08"/><rect x="439.43" y="518.44" width="1.45" height="30.16"/><rect x="440.75" y="488.7" width="1.45" height="59.9"/><rect x="442.08" y="533.52" width="1.45" height="15.08"/><rect x="443.41" y="510.9" width="1.45" height="37.7"/><rect x="444.74" y="505" width="1.45" height="43.6"/><rect x="446.06" y="503.36" width="1.45" height="45.24"/><rect x="447.39" y="510.9" width="1.45" height="37.7"/><rect x="448.72" y="510.9" width="1.45" height="37.7"/><rect x="450.05" y="541.06" width="1.45" height="7.54"/><rect x="451.38" y="498" width="1.45" height="50.6"/><rect x="452.7" y="518.44" width="1.45" height="30.16"/><rect x="454.03" y="533.52" width="1.45" height="15.08"/><rect x="455.36" y="518.44" width="1.45" height="30.16"/><rect x="456.69" y="525.98" width="1.45" height="22.62"/><rect x="458.02" y="504" width="1.45" height="44.6"/><rect x="459.34" y="533.52" width="1.45" height="15.08"/><rect x="460.67" y="525.98" width="1.45" height="22.62"/><rect x="462" y="525.98" width="1.45" height="22.62"/><rect x="463.33" y="481.6" width="1.45" height="67"/><rect x="464.65" y="503.36" width="1.45" height="45.24"/><rect x="465.98" y="503.36" width="1.45" height="45.24"/><rect x="467.31" y="473" width="1.45" height="75.6"/><rect x="468.64" y="533.52" width="1.45" height="15.08"/><rect x="469.97" y="518.44" width="1.45" height="30.16"/><rect x="471.29" y="495.82" width="1.45" height="52.78"/><rect x="472.62" y="488.7" width="1.45" height="59.9"/><rect x="473.95" y="495.82" width="1.45" height="52.78"/><rect x="475.28" y="488.28" width="1.45" height="60.32"/></g>
<g fill="#4b9bb0"><rect x="476.61" y="526.4" width="1.38" height="22.2"/><rect x="477.93" y="526.4" width="1.38" height="22.2"/><rect x="479.26" y="549" width="1.38" height="-0.4"/><rect x="480.59" y="526.4" width="1.38" height="22.2"/><rect x="481.92" y="526.4" width="1.38" height="22.2"/><rect x="483.24" y="534" width="1.38" height="14.6"/><rect x="484.57" y="503.6" width="1.38" height="45"/></g>
<line x1="259.2" y1="511.4" x2="485.3" y2="511.4" stroke="#8a8a8a" stroke-width="1.1" stroke-dasharray="2.4 3.85"/>
<text id="g3_5" x="253.10" y="515.70" class="gl" textLength="6.55" lengthAdjust="spacingAndGlyphs">5</text>
<line x1="259.2" y1="473.7" x2="485.3" y2="473.7" stroke="#8a8a8a" stroke-width="1.1" stroke-dasharray="2.4 3.85"/>
<text id="g3_10" x="245.90" y="478.00" class="gl" textLength="13.71" lengthAdjust="spacingAndGlyphs">10</text>
<path d="M258 548.6 L258.08 548.67 L259.4 548.48 L260.73 548.32 L262.06 547.87 L263.39 547.62 L264.72 547.52 L266.04 547.5 L267.37 547.45 L268.7 547.18 L270.03 547.6 L271.35 546.88 L272.68 546.59 L274.01 546.37 L275.34 545.59 L276.67 545.16 L277.99 544.7 L279.32 544.18 L280.65 542.33 L281.98 542.45 L283.31 542.27 L284.63 540.89 L285.96 539.64 L287.29 538.39 L288.62 536.98 L289.94 534.71 L291.27 534.74 L292.6 532.46 L293.93 531.28 L295.26 529.55 L296.58 528.29 L297.91 529.26 L299.24 531.19 L300.57 532.79 L301.89 534.47 L303.22 535.17 L304.55 535.82 L305.88 536.91 L307.21 535.41 L308.53 533.35 L309.86 531.04 L311.19 530.84 L312.52 532.77 L313.85 535.3 L315.17 537.43 L316.5 541.1 L317.83 542.61 L319.16 544.51 L320.48 543.2 L321.81 540.31 L323.14 538.18 L324.47 538.22 L325.8 536.67 L327.12 535.23 L328.45 534.45 L329.78 535.72 L331.11 536.12 L332.44 536.71 L333.76 538.58 L335.09 539.18 L336.42 540.82 L337.75 541.43 L339.07 541.23 L340.4 542.47 L341.73 543.92 L343.06 544.15 L344.39 545.46 L345.71 545.83 L347.04 545.23 L348.37 545.38 L349.7 544.86 L351.02 543.49 L352.35 541.87 L353.68 539.66 L355.01 538.24 L356.34 538.27 L357.66 539.93 L358.99 540.33 L360.32 541.89 L361.65 541.09 L362.98 542.26 L364.3 543.72 L365.63 542.79 L366.96 544.16 L368.29 545.26 L369.61 546.61 L370.94 547.09 L372.27 547.69 L373.6 547.8 L374.93 547.36 L376.25 546.33 L377.58 544.87 L378.91 545.4 L380.24 544.58 L381.56 543.93 L382.89 544.54 L384.22 544.62 L385.55 545.25 L386.88 546.12 L388.2 546.7 L389.53 547.05 L390.86 547.25 L392.19 547.12 L393.52 546.95 L394.84 547.31 L396.17 546.91 L397.5 546.77 L398.83 547.06 L400.15 547.34 L401.48 546.81 L402.81 547.06 L404.14 547 L405.47 547.18 L406.79 547.06 L408.12 546.18 L409.45 544.66 L410.78 544.34 L412.11 543.51 L413.43 544.4 L414.76 543 L416.09 544.21 L417.42 544.17 L418.74 543.73 L420.07 543.49 L421.4 542.92 L422.73 542.03 L424.06 541.28 L425.38 537.78 L426.71 537.13 L428.04 534.63 L429.37 533.78 L430.69 533.7 L432.02 532.94 L433.35 533.67 L434.68 534.85 L436.01 536.29 L437.33 536.15 L438.66 533.35 L439.99 529.69 L441.32 525.73 L442.65 522.66 L443.97 520.47 L445.3 518.19 L446.63 515.8 L447.96 516.7 L449.28 517.15 L450.61 521.03 L451.94 522.99 L453.27 527.17 L454.6 531.23 L455.92 532.41 L457.25 531.49 L458.58 530.94 L459.91 528.04 L461.24 525.04 L462.56 520.91 L463.89 516.63 L465.22 512.36 L466.55 510.89 L467.87 509.3 L469.2 508.49 L470.53 507.86 L471.86 505.98 L473.19 506.35 L474.51 505.58 L475.84 504.82 L477.17 507.39 L478.5 512.56 L479.82 513.07 L481.15 511.86 L482.48 514.85 L483.81 521.37 L485.14 526.85 L485.4 527.7" fill="none" stroke="#676767" stroke-width="2.6" stroke-linejoin="round" stroke-linecap="round"/>
<rect x="228.2" y="547.5" width="257.6" height="2.2" fill="#151515"/>
<rect x="228.2" y="547.6" width="1.4" height="13" fill="#151515"/>
<path d="M476.6 556.1V558.6H485.7V556.1" fill="none" stroke="#333" stroke-width="1.3"/>
<rect x="467.2" y="468.4" width="1.6" height="4.6" fill="#333"/>
<text id="m3" x="459.00" y="465.80" class="ml" textLength="16.96" lengthAdjust="spacingAndGlyphs">10</text>
<text id="x3" x="227.30" y="578.60" class="xl" textLength="45.96" lengthAdjust="spacingAndGlyphs">March 1</text>
<text id="l3" x="394.20" y="578.60" class="xl" textLength="92.34" lengthAdjust="spacingAndGlyphs">Last seven days</text>
<text id="t4" x="543.10" y="380.10" class="tt" textLength="75.22" lengthAdjust="spacingAndGlyphs">Arizona</text>
<text id="a4" x="542.10" y="409.80" class="st" textLength="262.68" lengthAdjust="spacingAndGlyphs">116 new deaths this week, down</text>
<text id="b4" x="543.50" y="431.00" class="st" textLength="226.78" lengthAdjust="spacingAndGlyphs">from 194 the previous week</text>
<g fill="#cdcdcd"><rect x="566.91" y="548.27" width="1.45" height="0.33"/><rect x="568.24" y="548.14" width="1.45" height="0.46"/><rect x="569.56" y="547.9" width="1.45" height="0.7"/><rect x="570.89" y="548" width="1.45" height="0.6"/><rect x="573.54" y="547.82" width="1.45" height="0.78"/><rect x="574.87" y="547.43" width="1.45" height="1.17"/><rect x="576.19" y="546.95" width="1.45" height="1.65"/><rect x="577.52" y="547.42" width="1.45" height="1.18"/><rect x="578.84" y="546.64" width="1.45" height="1.96"/><rect x="580.17" y="546.69" width="1.45" height="1.91"/><rect x="581.5" y="547.6" width="1.45" height="1"/><rect x="582.82" y="547.22" width="1.45" height="1.38"/><rect x="584.15" y="546.82" width="1.45" height="1.78"/><rect x="585.47" y="545.72" width="1.45" height="2.88"/><rect x="586.8" y="545.96" width="1.45" height="2.64"/><rect x="588.12" y="544.46" width="1.45" height="4.14"/><rect x="589.45" y="544.5" width="1.45" height="4.1"/><rect x="590.78" y="547.33" width="1.45" height="1.27"/><rect x="592.1" y="546" width="1.45" height="2.6"/><rect x="593.43" y="540.86" width="1.45" height="7.74"/><rect x="594.75" y="541.28" width="1.45" height="7.32"/><rect x="596.08" y="542.5" width="1.45" height="6.1"/><rect x="597.41" y="543.84" width="1.45" height="4.76"/><rect x="598.73" y="543.16" width="1.45" height="5.44"/><rect x="600.06" y="546.91" width="1.45" height="1.69"/><rect x="601.38" y="543.54" width="1.45" height="5.06"/><rect x="602.71" y="540.39" width="1.45" height="8.21"/><rect x="604.03" y="539.01" width="1.45" height="9.59"/><rect x="605.36" y="541.97" width="1.45" height="6.63"/><rect x="606.69" y="540.01" width="1.45" height="8.59"/><rect x="608.01" y="541.67" width="1.45" height="6.93"/><rect x="609.34" y="546.92" width="1.45" height="1.68"/><rect x="610.66" y="543.45" width="1.45" height="5.15"/><rect x="611.99" y="537.88" width="1.45" height="10.72"/><rect x="613.31" y="538.95" width="1.45" height="9.65"/><rect x="614.64" y="537.76" width="1.45" height="10.84"/><rect x="615.97" y="540.65" width="1.45" height="7.95"/><rect x="617.29" y="537.11" width="1.45" height="11.49"/><rect x="618.62" y="546.47" width="1.45" height="2.13"/><rect x="619.94" y="543.95" width="1.45" height="4.65"/><rect x="621.27" y="540.59" width="1.45" height="8.01"/><rect x="622.59" y="540.61" width="1.45" height="7.99"/><rect x="623.92" y="541.45" width="1.45" height="7.15"/><rect x="625.25" y="539.9" width="1.45" height="8.7"/><rect x="626.57" y="539.54" width="1.45" height="9.06"/><rect x="627.9" y="546.41" width="1.45" height="2.19"/><rect x="629.22" y="539.39" width="1.45" height="9.21"/><rect x="630.55" y="535.51" width="1.45" height="13.09"/><rect x="631.88" y="538.08" width="1.45" height="10.52"/><rect x="633.2" y="530.79" width="1.45" height="17.81"/><rect x="634.53" y="515.9" width="1.45" height="32.7"/><rect x="635.85" y="536.27" width="1.45" height="12.33"/><rect x="637.18" y="545.43" width="1.45" height="3.17"/><rect x="638.5" y="538.37" width="1.45" height="10.23"/><rect x="639.83" y="534.86" width="1.45" height="13.74"/><rect x="641.16" y="530.17" width="1.45" height="18.43"/><rect x="642.48" y="537.02" width="1.45" height="11.58"/><rect x="643.81" y="534.11" width="1.45" height="14.49"/><rect x="645.13" y="531.5" width="1.45" height="17.1"/><rect x="646.46" y="545.57" width="1.45" height="3.03"/><rect x="647.78" y="543.01" width="1.45" height="5.59"/><rect x="649.11" y="538.61" width="1.45" height="9.99"/><rect x="650.44" y="527.7" width="1.45" height="20.9"/><rect x="651.76" y="537.31" width="1.45" height="11.29"/><rect x="653.09" y="535.97" width="1.45" height="12.63"/><rect x="654.41" y="541.78" width="1.45" height="6.82"/><rect x="655.74" y="545.97" width="1.45" height="2.63"/><rect x="657.06" y="543.34" width="1.45" height="5.26"/><rect x="658.39" y="541.37" width="1.45" height="7.23"/><rect x="659.72" y="539.68" width="1.45" height="8.92"/><rect x="661.04" y="539.63" width="1.45" height="8.97"/><rect x="662.37" y="541.72" width="1.45" height="6.88"/><rect x="663.69" y="540.47" width="1.45" height="8.13"/><rect x="665.02" y="545.11" width="1.45" height="3.49"/><rect x="666.35" y="543.41" width="1.45" height="5.19"/><rect x="667.67" y="536.32" width="1.45" height="12.28"/><rect x="669" y="530" width="1.45" height="18.6"/><rect x="670.32" y="536.79" width="1.45" height="11.81"/><rect x="671.65" y="535.11" width="1.45" height="13.49"/><rect x="672.97" y="535.74" width="1.45" height="12.86"/><rect x="674.3" y="546.08" width="1.45" height="2.52"/><rect x="675.63" y="537.03" width="1.45" height="11.57"/><rect x="676.95" y="536.2" width="1.45" height="12.4"/><rect x="678.28" y="538.59" width="1.45" height="10.01"/><rect x="679.6" y="533.83" width="1.45" height="14.77"/><rect x="680.93" y="537.89" width="1.45" height="10.71"/><rect x="682.25" y="536.44" width="1.45" height="12.16"/><rect x="683.58" y="545.47" width="1.45" height="3.13"/><rect x="684.91" y="542.33" width="1.45" height="6.27"/><rect x="686.23" y="532.4" width="1.45" height="16.2"/><rect x="687.56" y="528.44" width="1.45" height="20.16"/><rect x="688.88" y="528.02" width="1.45" height="20.58"/><rect x="690.21" y="532.64" width="1.45" height="15.96"/><rect x="691.54" y="534.55" width="1.45" height="14.05"/><rect x="692.86" y="544.42" width="1.45" height="4.18"/><rect x="694.19" y="539.62" width="1.45" height="8.98"/><rect x="695.51" y="529.58" width="1.45" height="19.02"/><rect x="696.84" y="515.9" width="1.45" height="32.7"/><rect x="698.16" y="527.98" width="1.45" height="20.62"/><rect x="699.49" y="532.27" width="1.45" height="16.33"/><rect x="700.82" y="527.15" width="1.45" height="21.45"/><rect x="702.14" y="544.47" width="1.45" height="4.13"/><rect x="703.47" y="538.53" width="1.45" height="10.07"/><rect x="704.79" y="528.4" width="1.45" height="20.2"/><rect x="706.12" y="510" width="1.45" height="38.6"/><rect x="707.44" y="524.12" width="1.45" height="24.48"/><rect x="708.77" y="527.74" width="1.45" height="20.86"/><rect x="710.1" y="530.01" width="1.45" height="18.59"/><rect x="711.42" y="542.71" width="1.45" height="5.89"/><rect x="712.75" y="528.71" width="1.45" height="19.89"/><rect x="714.07" y="501.7" width="1.45" height="46.9"/><rect x="715.4" y="516.57" width="1.45" height="32.03"/><rect x="716.72" y="529.4" width="1.45" height="19.2"/><rect x="718.05" y="521.91" width="1.45" height="26.69"/><rect x="719.38" y="517.71" width="1.45" height="30.89"/><rect x="720.7" y="540.74" width="1.45" height="7.86"/><rect x="722.03" y="533.29" width="1.45" height="15.31"/><rect x="723.35" y="498" width="1.45" height="50.6"/><rect x="724.68" y="518.03" width="1.45" height="30.57"/><rect x="726.01" y="517.71" width="1.45" height="30.89"/><rect x="727.33" y="510.54" width="1.45" height="38.06"/><rect x="728.66" y="484" width="1.45" height="64.6"/><rect x="729.98" y="539.36" width="1.45" height="9.24"/><rect x="731.31" y="504.77" width="1.45" height="43.83"/><rect x="732.63" y="510.49" width="1.45" height="38.11"/><rect x="733.96" y="490" width="1.45" height="58.6"/><rect x="735.29" y="513.38" width="1.45" height="35.22"/><rect x="736.61" y="513.97" width="1.45" height="34.63"/><rect x="737.94" y="485.2" width="1.45" height="63.4"/><rect x="739.26" y="535.96" width="1.45" height="12.64"/><rect x="740.59" y="522.95" width="1.45" height="25.65"/><rect x="741.91" y="498.7" width="1.45" height="49.9"/><rect x="743.24" y="494.32" width="1.45" height="54.28"/><rect x="744.57" y="472" width="1.45" height="76.6"/><rect x="745.89" y="503.01" width="1.45" height="45.59"/><rect x="747.22" y="513.27" width="1.45" height="35.33"/><rect x="748.54" y="539.26" width="1.45" height="9.34"/><rect x="749.87" y="526.91" width="1.45" height="21.69"/><rect x="751.19" y="505" width="1.45" height="43.6"/><rect x="752.52" y="509.46" width="1.45" height="39.14"/><rect x="753.85" y="516.72" width="1.45" height="31.88"/><rect x="755.17" y="518.51" width="1.45" height="30.09"/><rect x="756.5" y="510" width="1.45" height="38.6"/><rect x="757.82" y="540.73" width="1.45" height="7.87"/><rect x="759.15" y="528.35" width="1.45" height="20.25"/><rect x="760.48" y="518.72" width="1.45" height="29.88"/><rect x="761.8" y="480.4" width="1.45" height="68.2"/><rect x="763.13" y="526.39" width="1.45" height="22.21"/><rect x="764.45" y="527.57" width="1.45" height="21.03"/><rect x="765.78" y="526.79" width="1.45" height="21.81"/><rect x="767.1" y="540.62" width="1.45" height="7.98"/><rect x="768.43" y="534.98" width="1.45" height="13.62"/><rect x="769.76" y="523.88" width="1.45" height="24.72"/><rect x="771.08" y="497" width="1.45" height="51.6"/><rect x="772.41" y="527.47" width="1.45" height="21.13"/><rect x="773.73" y="523.23" width="1.45" height="25.37"/><rect x="775.06" y="531.58" width="1.45" height="17.02"/><rect x="776.38" y="539.72" width="1.45" height="8.88"/><rect x="777.71" y="536.52" width="1.45" height="12.08"/><rect x="779.04" y="525.53" width="1.45" height="23.07"/><rect x="780.36" y="500.5" width="1.45" height="48.1"/><rect x="781.69" y="528.45" width="1.45" height="20.15"/><rect x="783.01" y="530.07" width="1.45" height="18.53"/><rect x="784.34" y="527.01" width="1.45" height="21.59"/><rect x="785.66" y="543.23" width="1.45" height="5.37"/><rect x="786.99" y="533.41" width="1.45" height="15.19"/><rect x="788.32" y="527.94" width="1.45" height="20.66"/><rect x="789.64" y="515" width="1.45" height="33.6"/><rect x="790.97" y="527.43" width="1.45" height="21.17"/><rect x="792.29" y="534.92" width="1.45" height="13.68"/></g>
<g fill="#4b9bb0"><rect x="793.62" y="535" width="1.38" height="13.6"/><rect x="794.95" y="536" width="1.38" height="12.6"/><rect x="796.27" y="540" width="1.38" height="8.6"/><rect x="797.6" y="545" width="1.38" height="3.6"/><rect x="798.92" y="538" width="1.38" height="10.6"/><rect x="800.25" y="537" width="1.38" height="11.6"/><rect x="801.57" y="538" width="1.38" height="10.6"/></g>
<line x1="576.8" y1="525.1" x2="802.3" y2="525.1" stroke="#8a8a8a" stroke-width="1.1" stroke-dasharray="2.4 3.85"/>
<text id="g4_50" x="561.30" y="529.40" class="gl" textLength="15.71" lengthAdjust="spacingAndGlyphs">50</text>
<line x1="576.8" y1="501.2" x2="802.3" y2="501.2" stroke="#8a8a8a" stroke-width="1.1" stroke-dasharray="2.4 3.85"/>
<text id="g4_100" x="554.10" y="505.50" class="gl" textLength="22.86" lengthAdjust="spacingAndGlyphs">100</text>
<line x1="576.8" y1="477.3" x2="802.3" y2="477.3" stroke="#8a8a8a" stroke-width="1.1" stroke-dasharray="2.4 3.85"/>
<text id="g4_150" x="556.90" y="481.60" class="gl" textLength="20.06" lengthAdjust="spacingAndGlyphs">150</text>
<path d="M565 548.6 L566.15 548.47 L567.48 548.28 L568.8 548.21 L570.13 547.89 L571.45 547.8 L572.78 548.01 L574.1 547.59 L575.43 547.81 L576.76 547.26 L578.08 547.55 L579.41 546.92 L580.73 547.46 L582.06 547.06 L583.38 547.02 L584.71 546.34 L586.04 546.49 L587.36 545.57 L588.69 545.08 L590.01 545.33 L591.34 543.89 L592.66 544.13 L593.99 544.65 L595.32 543.23 L596.64 544.17 L597.97 543.98 L599.29 542.34 L600.62 543.89 L601.95 542.46 L603.27 542.86 L604.6 541.99 L605.92 541.75 L607.25 542.11 L608.57 542.27 L609.9 540.76 L611.23 541.2 L612.55 540.58 L613.88 540 L615.2 541.38 L616.53 541.19 L617.85 541.1 L619.18 542.26 L620.51 541.49 L621.83 542.49 L623.16 542.92 L624.48 543.6 L625.81 543.58 L627.14 541.51 L628.46 540.79 L629.79 539.79 L631.11 539.32 L632.44 537.44 L633.76 535.5 L635.09 535.13 L636.42 536.69 L637.74 535.51 L639.07 536.11 L640.39 537.56 L641.72 537.82 L643.04 537.24 L644.37 538.36 L645.7 538.48 L647.02 537.92 L648.35 538.98 L649.67 539.08 L651 539.94 L652.32 538.86 L653.65 538.84 L654.98 540.87 L656.3 540.76 L657.63 540.73 L658.95 540.95 L660.28 541.62 L661.61 541.22 L662.93 541.75 L664.26 541.07 L665.58 539.34 L666.91 539.46 L668.23 538.16 L669.56 538.51 L670.89 537.62 L672.21 538.91 L673.54 539.09 L674.86 539.54 L676.19 539.98 L677.51 538.6 L678.84 538.26 L680.17 538.09 L681.49 538.83 L682.82 536.9 L684.14 537.32 L685.47 537.52 L686.79 537.12 L688.12 537.28 L689.45 536.48 L690.77 535.89 L692.1 534.83 L693.42 536.26 L694.75 535.43 L696.08 534.45 L697.4 534.22 L698.73 533.24 L700.05 532.95 L701.38 532.32 L702.7 532.02 L704.03 531.09 L705.36 530.9 L706.68 530.53 L708.01 530.8 L709.33 531.02 L710.66 530.94 L711.98 531.12 L713.31 529.86 L714.64 529.52 L715.96 528.38 L717.29 527.02 L718.61 525 L719.94 523.79 L721.26 522.22 L722.59 520.03 L723.92 517.23 L725.24 516.72 L726.57 515.16 L727.89 511.79 L729.22 510.19 L730.55 510.74 L731.87 509.38 L733.2 510.19 L734.52 510.04 L735.85 509.79 L737.17 510.12 L738.5 510.98 L739.83 511.88 L741.15 511.63 L742.48 513.46 L743.8 512.39 L745.13 512.64 L746.45 514.31 L747.78 515.63 L749.11 516.41 L750.43 517.56 L751.76 519.03 L753.08 520.13 L754.41 520.52 L755.74 521.35 L757.06 521.15 L758.39 523.02 L759.71 521.71 L761.04 521.61 L762.36 522.77 L763.69 522.72 L765.02 524.43 L766.34 523.35 L767.67 524.64 L768.99 525.72 L770.32 525.51 L771.64 527.69 L772.97 527.65 L774.3 527.47 L775.62 528.24 L776.95 528.51 L778.27 529.92 L779.6 530.18 L780.92 528.7 L782.25 529.83 L783.58 528.92 L784.9 530.38 L786.23 530.31 L787.55 530.28 L788.88 532.32 L790.21 532.32 L791.53 533.17 L792.86 533.68 L794.18 533 L795.51 534.12 L796.83 533.51 L798.16 534.96 L799.49 536.37 L800.81 538.38 L802.1 539.5" fill="none" stroke="#676767" stroke-width="2.6" stroke-linejoin="round" stroke-linecap="round"/>
<rect x="545.6" y="547.5" width="257.2" height="2.2" fill="#151515"/>
<rect x="545.6" y="547.6" width="1.4" height="13" fill="#151515"/>
<path d="M793.6 556.1V558.6H802.7V556.1" fill="none" stroke="#333" stroke-width="1.3"/>
<rect x="744.7" y="468.4" width="1.6" height="4.6" fill="#333"/>
<text id="m4" x="733.00" y="465.80" class="ml" textLength="24.23" lengthAdjust="spacingAndGlyphs">158</text>
<text id="x4" x="544.30" y="578.60" class="xl" textLength="45.96" lengthAdjust="spacingAndGlyphs">March 1</text>
<text id="l4" x="712.00" y="578.60" class="xl" textLength="91.54" lengthAdjust="spacingAndGlyphs">Last seven days</text>
</svg>
</body></html>
